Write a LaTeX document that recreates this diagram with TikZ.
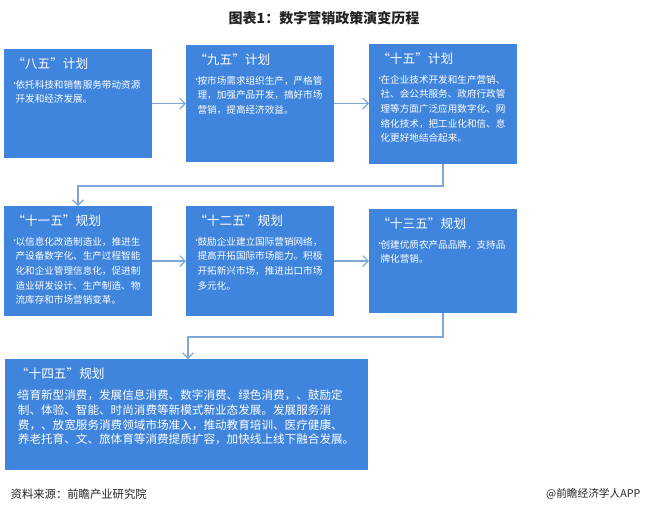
\documentclass[tikz,border=0pt]{standalone}
\usepackage{fontspec}
\setmainfont{Noto Sans CJK SC}
\usetikzlibrary{arrows.meta}
\definecolor{PBlue}{HTML}{3F84DD}
\definecolor{PLine}{HTML}{7FA6D6}
\definecolor{PText}{HTML}{222222}
\newcommand{\pdot}{\makebox[3.5pt][l]{\raisebox{1.2pt}{\scalebox{0.8}{•}}}}

\tikzset{
    stagetext/.style={anchor=north west, text=white, align=left, font=\fontsize{7.2pt}{11pt}\selectfont, inner sep=0pt},
    widetext/.style={stagetext, font=\fontsize{8.7pt}{11pt}\selectfont},
    stagehead/.style={anchor=north west, text=white, font=\fontsize{9.5pt}{10pt}\selectfont, inner sep=0pt},
    flow/.style={PLine, line width=0.9pt, -{Straight Barb[length=4pt,width=8pt]}}
}

\begin{document}
\begin{tikzpicture}[x=0.75pt, y=-0.75pt]
    \useasboundingbox (0,0) rectangle (649,515);

    % --- 标题 ---
    \node[font=\bfseries\fontsize{10.5pt}{12pt}\selectfont, text=PText] (title) at (324,18) {图表1：数字营销政策演变历程};

    % --- 色块 ---
    \foreach \n/\xa/\ya/\xb/\yb in {
        b1/4/49/152/158, b2/186/45/334/162, b3/369/44/517/164,
        b4/4/206/152/316, b5/186/206/334/316, b6/369/209/517/313,
        b7/5/359/368/470} {
        \fill[PBlue] (\xa,\ya) rectangle (\xb,\yb);
        \coordinate (\n nw) at (\xa,\ya);
        \coordinate (\n se) at (\xb,\yb);
        \coordinate (\n) at ({(\xa+\xb)/2},{(\ya+\yb)/2});
    }

    % --- 标题与正文 ---
    \node[stagehead] (h1) at ([xshift=6pt,yshift=-6pt]b1nw) {“八五”计划};
    \node[stagehead] (h2) at ([xshift=6pt,yshift=-6pt]b2nw) {“九五”计划};
    \node[stagehead] (h3) at ([xshift=6pt,yshift=-6pt]b3nw) {“十五”计划};
    \node[stagehead] (h4) at ([xshift=6pt,yshift=-6pt]b4nw) {“十一五”规划};
    \node[stagehead] (h5) at ([xshift=6pt,yshift=-6pt]b5nw) {“十二五”规划};
    \node[stagehead] (h6) at ([xshift=6pt,yshift=-6pt]b6nw) {“十三五”规划};
    \node[stagehead] (h7) at ([xshift=8pt,yshift=-6pt]b7nw) {“十四五”规划};

    \node[stagetext] (t1) at ([xshift=5pt,yshift=-23pt]b1nw)
        {\pdot 依托科技和销售服务带动资源\\\hspace{3.5pt}开发和经济发展。};
    \node[stagetext] (t2) at ([xshift=5pt,yshift=-23pt]b2nw)
        {\pdot 按市场需求组织生产，严格管\\\hspace{3.5pt}理，加强产品开发，搞好市场\\\hspace{3.5pt}营销，提高经济效益。};
    \node[stagetext] (t3) at ([xshift=5pt,yshift=-23pt]b3nw)
        {\pdot 在企业技术开发和生产营销、\\\hspace{3.5pt}社、会公共服务、政府行政管\\\hspace{3.5pt}理等方面广泛应用数字化、网\\\hspace{3.5pt}络化技术，把工业化和信、息\\\hspace{3.5pt}化更好地结合起来。};
    \node[stagetext] (t4) at ([xshift=5pt,yshift=-23pt]b4nw)
        {\pdot 以信息化改造制造业，推进生\\\hspace{3.5pt}产设备数字化、生产过程智能\\\hspace{3.5pt}化和企业管理信息化，促进制\\\hspace{3.5pt}造业研发设计、生产制造、物\\\hspace{3.5pt}流库存和市场营销变革。};
    \node[stagetext] (t5) at ([xshift=5pt,yshift=-23pt]b5nw)
        {\pdot 鼓励企业建立国际营销网络，\\\hspace{3.5pt}提高开拓国际市场能力。积极\\\hspace{3.5pt}开拓新兴市场，推进出口市场\\\hspace{3.5pt}多元化。};
    \node[stagetext] (t6) at ([xshift=5pt,yshift=-23pt]b6nw)
        {\pdot 创建优质农产品品牌，支持品\\\hspace{3.5pt}牌化营销。};
    \node[widetext] (t7) at ([xshift=6pt,yshift=-23pt]b7nw)
        {\pdot 培育新型消费，发展信息消费、数字消费、绿色消费，、鼓励定\\\hspace{3.5pt}制、体验、智能、时尚消费等新模式新业态发展。发展服务消\\\hspace{3.5pt}费，、放宽服务消费领域市场准入，推动教育培训、医疗健康、\\\hspace{3.5pt}养老托育、文、旅体育等消费提质扩容，加快线上线下融合发展。};

    % --- 连接箭头 ---
    \coordinate (r1) at (443,186);
    \coordinate (r2) at (78,186);
    \coordinate (r3) at (443,337);
    \coordinate (r4) at (188,337);
    \draw[flow] (b1se |- b1) -- (b2nw |- b1);
    \draw[flow] (b2se |- b2) -- (b3nw |- b2);
    \draw[flow] (b4se |- b4) -- (b5nw |- b4);
    \draw[flow] (b5se |- b5) -- (b6nw |- b5);
    \draw[flow] (r1 |- b3se) -- (r1) -- (r2) -- (r2 |- b4nw);
    \draw[flow] (r3 |- b6se) -- (r3) -- (r4) -- (r4 |- b7nw);

    % --- 页脚 ---
    \node[anchor=west, font=\fontsize{8.5pt}{9pt}\selectfont, text=PText] (src) at (6,494) {资料来源：前瞻产业研究院};
    \node[anchor=east, font=\fontsize{8pt}{9pt}\selectfont, text=PText] (app) at (645,494) {@前瞻经济学人APP};
\end{tikzpicture}
\end{document}
